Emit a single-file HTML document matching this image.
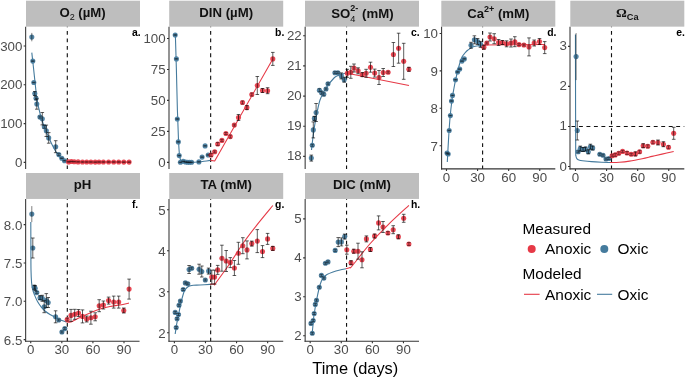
<!DOCTYPE html>
<html lang="en">
<head>
<meta charset="utf-8">
<title>Time series of measured and modeled porewater chemistry</title>
<style>
html,body{margin:0;padding:0;background:#fff;}
body{width:685px;height:378px;overflow:hidden;font-family:"Liberation Sans",Arial,Helvetica,sans-serif;}
svg{display:block;}
</style>
</head>
<body>
<svg width="685" height="378" viewBox="0 0 685 378" font-family="'Liberation Sans', Arial, Helvetica, sans-serif">
<rect width="685" height="378" fill="#fff"/>
<g>
<rect x="26" y="0.7" width="114" height="25.95" fill="#BEBEBE"/>
<text x="82.55" y="16.8" text-anchor="middle" font-size="13.2" font-weight="bold" fill="#111">O<tspan font-size="9" font-weight="normal" dy="3.3">2</tspan><tspan dy="-3.3"> (µM)</tspan></text>
<path d="M67.3 26.65 V168.9" stroke="#111" stroke-width="1.12" stroke-dasharray="3.9 3.58" stroke-dashoffset="3.2" fill="none"/>
<path d="M31.8 52.6 C32.05 54.83 32.77 61.1 33.3 66 C33.83 70.9 34.37 76.33 35 82 C35.63 87.67 36.27 94.78 37.1 100 C37.93 105.22 39.03 109.48 40 113.3 C40.97 117.12 41.95 120.03 42.9 122.9 C43.85 125.77 44.75 128.13 45.7 130.5 C46.65 132.87 47.55 134.77 48.6 137.1 C49.65 139.43 50.9 142.27 52 144.5 C53.1 146.73 54.03 148.55 55.2 150.5 C56.37 152.45 57.87 154.78 59 156.2 C60.13 157.62 61.03 158.2 62 159 C62.97 159.8 63.87 160.52 64.8 161 C65.73 161.48 67.13 161.75 67.6 161.9" stroke="#457B9D" stroke-width="1.1" fill="none" stroke-linejoin="round"/>
<path d="M67.6 161.9 L129.1 162.1" stroke="#E63946" stroke-width="1.1" fill="none" stroke-linejoin="round"/>
<g fill="#457B9D" fill-opacity="0.93"><circle cx="31.8" cy="37.1" r="2.55"/><circle cx="32.8" cy="61.1" r="2.55"/><circle cx="33.8" cy="82.5" r="2.55"/><circle cx="34.8" cy="93.6" r="2.55"/><circle cx="36" cy="98.2" r="2.55"/><circle cx="36.8" cy="104" r="2.55"/><circle cx="39.9" cy="117.1" r="2.55"/><circle cx="42.3" cy="118.7" r="2.55"/><circle cx="44.3" cy="126.8" r="2.55"/><circle cx="46.3" cy="130.8" r="2.55"/><circle cx="48.7" cy="137.9" r="2.55"/><circle cx="55.7" cy="146.7" r="2.55"/><circle cx="58.8" cy="154.6" r="2.55"/><circle cx="61.8" cy="158.2" r="2.55"/><circle cx="64.5" cy="160.7" r="2.55"/></g>
<g fill="#E63946" fill-opacity="0.93"><circle cx="68.6" cy="161.9" r="2.55"/><circle cx="71.4" cy="161.5" r="2.55"/><circle cx="74.3" cy="161.7" r="2.55"/><circle cx="78.1" cy="161.9" r="2.55"/><circle cx="82.5" cy="162" r="2.55"/><circle cx="86.7" cy="162" r="2.55"/><circle cx="90.9" cy="162" r="2.55"/><circle cx="95.2" cy="162.1" r="2.55"/><circle cx="99" cy="162" r="2.55"/><circle cx="103.4" cy="162" r="2.55"/><circle cx="108.6" cy="162" r="2.55"/><circle cx="113.7" cy="162" r="2.55"/><circle cx="118.7" cy="162" r="2.55"/><circle cx="123.8" cy="162.1" r="2.55"/><circle cx="129.1" cy="162.1" r="2.55"/></g>
<path d="M31.8 32.9V41.3" stroke="#000" stroke-opacity="0.5" stroke-width="1" fill="none"/>
<path d="M32.8 60.8V61.4M31 60.8H34.6M31 61.4H34.6M33.8 82.2V82.8M32 82.2H35.6M32 82.8H35.6M36 96.7V99.7M34.2 96.7H37.8M34.2 99.7H37.8M39.9 116.1V118.1M38.1 116.1H41.7M38.1 118.1H41.7M44.3 125.3V128.3M42.5 125.3H46.1M42.5 128.3H46.1M58.8 153.6V155.6M57 153.6H60.6M57 155.6H60.6M61.8 157.9V158.5M60 157.9H63.6M60 158.5H63.6M64.5 160.4V161M62.7 160.4H66.3M62.7 161H66.3M68.6 161.6V162.2M66.8 161.6H70.4M66.8 162.2H70.4M71.4 161.2V161.8M69.6 161.2H73.2M69.6 161.8H73.2M74.3 161.4V162M72.5 161.4H76.1M72.5 162H76.1M78.1 161.6V162.2M76.3 161.6H79.9M76.3 162.2H79.9M82.5 161.7V162.3M80.7 161.7H84.3M80.7 162.3H84.3M86.7 161.7V162.3M84.9 161.7H88.5M84.9 162.3H88.5M90.9 161.7V162.3M89.1 161.7H92.7M89.1 162.3H92.7M95.2 161.8V162.4M93.4 161.8H97M93.4 162.4H97M99 161.7V162.3M97.2 161.7H100.8M97.2 162.3H100.8M103.4 161.7V162.3M101.6 161.7H105.2M101.6 162.3H105.2M108.6 161.7V162.3M106.8 161.7H110.4M106.8 162.3H110.4M113.7 161.7V162.3M111.9 161.7H115.5M111.9 162.3H115.5M118.7 161.7V162.3M116.9 161.7H120.5M116.9 162.3H120.5M123.8 161.8V162.4M122 161.8H125.6M122 162.4H125.6M129.1 161.8V162.4M127.3 161.8H130.9M127.3 162.4H130.9" stroke="#000" stroke-opacity="0.62" stroke-width="0.65" fill="none"/>
<path d="M34.8 91.6V95.6M33 91.6H36.6M33 95.6H36.6M36.8 98.8V109.2M35 98.8H38.6M35 109.2H38.6M42.3 112.5V124.9M40.5 112.5H44.1M40.5 124.9H44.1M46.3 125.1V136.5M44.5 125.1H48.1M44.5 136.5H48.1M48.7 132.6V143.2M46.9 132.6H50.5M46.9 143.2H50.5M55.7 140.7V152.7M53.9 140.7H57.5M53.9 152.7H57.5" stroke="#000" stroke-opacity="0.88" stroke-width="0.72" fill="none"/>
<path d="M25.65 26.65 V168.9" stroke="#333" stroke-width="1.05" fill="none"/>
<path d="M23.65 162.4H25.65M23.65 123.6H25.65M23.65 84.8H25.65M23.65 46H25.65" stroke="#333" stroke-width="1.1" fill="none"/>
<g font-size="13.3" fill="#4D4D4D" text-anchor="end"><text x="22.35" y="166.9">0</text><text x="22.35" y="128.1">100</text><text x="22.35" y="89.3">200</text><text x="22.35" y="50.5">300</text></g>
<text x="131.9" y="35.95" font-size="10.4" font-weight="bold" fill="#000">a.</text>
</g>
<g>
<rect x="169.2" y="0.7" width="114" height="25.95" fill="#BEBEBE"/>
<text x="226.2" y="16.8" text-anchor="middle" font-size="13.2" font-weight="bold" fill="#111">DIN (µM)</text>
<path d="M210.65 26.65 V168.9" stroke="#111" stroke-width="1.12" stroke-dasharray="3.9 3.58" stroke-dashoffset="3.2" fill="none"/>
<path d="M175.3 33 C175.48 39.17 176.05 57.17 176.4 70 C176.75 82.83 177.05 98.33 177.4 110 C177.75 121.67 178.15 132.5 178.5 140 C178.85 147.5 179.08 151.5 179.5 155 C179.92 158.5 180.42 159.8 181 161 C181.58 162.2 181.5 161.98 183 162.2 C184.5 162.42 187.5 162.33 190 162.3 C192.5 162.27 195.67 162.17 198 162 C200.33 161.83 201.92 161.57 204 161.3 C206.08 161.03 209.42 160.55 210.5 160.4" stroke="#457B9D" stroke-width="1.1" fill="none" stroke-linejoin="round"/>
<path d="M210.5 160.4 L214.7 161 L272.8 59" stroke="#E63946" stroke-width="1.1" fill="none" stroke-linejoin="round"/>
<g fill="#457B9D" fill-opacity="0.93"><circle cx="175.2" cy="35" r="2.55"/><circle cx="176.4" cy="58.9" r="2.55"/><circle cx="177.3" cy="119" r="2.55"/><circle cx="178.3" cy="141.9" r="2.55"/><circle cx="179.2" cy="155.6" r="2.55"/><circle cx="180.4" cy="162.3" r="2.55"/><circle cx="183.2" cy="161.3" r="2.55"/><circle cx="185.5" cy="162" r="2.55"/><circle cx="187.6" cy="162.2" r="2.55"/><circle cx="189.5" cy="162.3" r="2.55"/><circle cx="191.6" cy="162.3" r="2.55"/><circle cx="198.9" cy="161.9" r="2.55"/><circle cx="202.1" cy="157.1" r="2.55"/><circle cx="205.1" cy="145.9" r="2.55"/><circle cx="208.2" cy="155" r="2.55"/></g>
<g fill="#E63946" fill-opacity="0.93"><circle cx="211" cy="155" r="2.55"/><circle cx="214.7" cy="151.8" r="2.55"/><circle cx="217.7" cy="144" r="2.55"/><circle cx="221.9" cy="140.4" r="2.55"/><circle cx="225.9" cy="133.5" r="2.55"/><circle cx="230.3" cy="136.6" r="2.55"/><circle cx="234.3" cy="125.1" r="2.55"/><circle cx="238.5" cy="117.5" r="2.55"/><circle cx="242.5" cy="102.5" r="2.55"/><circle cx="246.9" cy="107.6" r="2.55"/><circle cx="251.8" cy="94.5" r="2.55"/><circle cx="257.3" cy="85.5" r="2.55"/><circle cx="262.5" cy="90.5" r="2.55"/><circle cx="267.6" cy="90.7" r="2.55"/><circle cx="272.8" cy="58.9" r="2.55"/></g>
<path d="M175.2 34.7V35.3M173.4 34.7H177M173.4 35.3H177M176.4 58.6V59.2M174.6 58.6H178.2M174.6 59.2H178.2M177.3 118.7V119.3M175.5 118.7H179.1M175.5 119.3H179.1M178.3 141.6V142.2M176.5 141.6H180.1M176.5 142.2H180.1M179.2 155.3V155.9M177.4 155.3H181M177.4 155.9H181M180.4 162V162.6M178.6 162H182.2M178.6 162.6H182.2M183.2 161V161.6M181.4 161H185M181.4 161.6H185M185.5 161.7V162.3M183.7 161.7H187.3M183.7 162.3H187.3M187.6 161.9V162.5M185.8 161.9H189.4M185.8 162.5H189.4M189.5 162V162.6M187.7 162H191.3M187.7 162.6H191.3M191.6 162V162.6M189.8 162H193.4M189.8 162.6H193.4M198.9 161.6V162.2M197.1 161.6H200.7M197.1 162.2H200.7M202.1 156.8V157.4M200.3 156.8H203.9M200.3 157.4H203.9M205.1 145.6V146.2M203.3 145.6H206.9M203.3 146.2H206.9M208.2 154.7V155.3M206.4 154.7H210M206.4 155.3H210M211 153.5V156.5M209.2 153.5H212.8M209.2 156.5H212.8M214.7 150.8V152.8M212.9 150.8H216.5M212.9 152.8H216.5M217.7 142.5V145.5M215.9 142.5H219.5M215.9 145.5H219.5M221.9 139.4V141.4M220.1 139.4H223.7M220.1 141.4H223.7M225.9 132.5V134.5M224.1 132.5H227.7M224.1 134.5H227.7M230.3 135.1V138.1M228.5 135.1H232.1M228.5 138.1H232.1M234.3 124.1V126.1M232.5 124.1H236.1M232.5 126.1H236.1M242.5 101V104M240.7 101H244.3M240.7 104H244.3M251.8 93V96M250 93H253.6M250 96H253.6" stroke="#000" stroke-opacity="0.62" stroke-width="0.65" fill="none"/>
<path d="M238.5 114.5V120.5M236.7 114.5H240.3M236.7 120.5H240.3M246.9 105.6V109.6M245.1 105.6H248.7M245.1 109.6H248.7M257.3 76.5V94.5M255.5 76.5H259.1M255.5 94.5H259.1M262.5 88.5V92.5M260.7 88.5H264.3M260.7 92.5H264.3M267.6 87.7V93.7M265.8 87.7H269.4M265.8 93.7H269.4M272.8 52.4V65.4M271 52.4H274.6M271 65.4H274.6" stroke="#000" stroke-opacity="0.88" stroke-width="0.72" fill="none"/>
<path d="M169 26.65 V168.9" stroke="#333" stroke-width="1.05" fill="none"/>
<path d="M167 162.4H169M167 131.4H169M167 100.4H169M167 69.5H169M167 38.5H169" stroke="#333" stroke-width="1.1" fill="none"/>
<g font-size="13.3" fill="#4D4D4D" text-anchor="end"><text x="165.6" y="167.2">0</text><text x="165.6" y="136.2">25</text><text x="165.6" y="105.2">50</text><text x="165.6" y="74.3">75</text><text x="165.6" y="43.3">100</text></g>
<text x="275.1" y="35.95" font-size="10.4" font-weight="bold" fill="#000">b.</text>
</g>
<g>
<rect x="305" y="0.7" width="114" height="25.95" fill="#BEBEBE"/>
<text x="362.4" y="17.6" text-anchor="middle" font-size="13.2" font-weight="bold" fill="#111">SO<tspan font-size="9.2" font-weight="normal" dy="4.2">4</tspan><tspan font-size="9" font-weight="bold" dy="-11.2" dx="-5.1">2-</tspan><tspan dy="7"> (mM)</tspan></text>
<path d="M346.55 26.65 V168.9" stroke="#111" stroke-width="1.12" stroke-dasharray="3.9 3.58" stroke-dashoffset="3.2" fill="none"/>
<path d="M311.5 150 C311.83 147.17 312.75 138.33 313.5 133 C314.25 127.67 314.92 123.5 316 118 C317.08 112.5 318.33 105 320 100 C321.67 95 323.67 91.67 326 88 C328.33 84.33 332 80.08 334 78 C336 75.92 336 76.33 338 75.5 C340 74.67 344.67 73.42 346 73" stroke="#457B9D" stroke-width="1.1" fill="none" stroke-linejoin="round"/>
<path d="M346 73 L409 85.5" stroke="#E63946" stroke-width="1.1" fill="none" stroke-linejoin="round"/>
<g fill="#457B9D" fill-opacity="0.93"><circle cx="311.3" cy="158.1" r="2.55"/><circle cx="312.3" cy="145.3" r="2.55"/><circle cx="313.3" cy="129.9" r="2.55"/><circle cx="314.4" cy="118.4" r="2.55"/><circle cx="316.1" cy="112.5" r="2.55"/><circle cx="319.4" cy="90.2" r="2.55"/><circle cx="321.6" cy="92.7" r="2.55"/><circle cx="323.8" cy="94.3" r="2.55"/><circle cx="326" cy="89" r="2.55"/><circle cx="328" cy="83.8" r="2.55"/><circle cx="334.9" cy="72.7" r="2.55"/><circle cx="337.9" cy="72.7" r="2.55"/><circle cx="341.3" cy="75.9" r="2.55"/><circle cx="344.2" cy="79.7" r="2.55"/></g>
<g fill="#E63946" fill-opacity="0.93"><circle cx="347.3" cy="73.3" r="2.55"/><circle cx="350.8" cy="72.3" r="2.55"/><circle cx="354" cy="68" r="2.55"/><circle cx="358.1" cy="70.8" r="2.55"/><circle cx="362.3" cy="74.6" r="2.55"/><circle cx="366.1" cy="73.3" r="2.55"/><circle cx="370.5" cy="67.2" r="2.55"/><circle cx="374.7" cy="73.1" r="2.55"/><circle cx="379" cy="77.5" r="2.55"/><circle cx="383.2" cy="72.5" r="2.55"/><circle cx="388.1" cy="72.2" r="2.55"/><circle cx="393.4" cy="54.5" r="2.55"/><circle cx="398.6" cy="48.2" r="2.55"/><circle cx="403.7" cy="61.3" r="2.55"/><circle cx="408.9" cy="69.3" r="2.55"/></g>
<path d="M312.3 144.3V146.3M310.5 144.3H314.1M310.5 146.3H314.1M319.4 88.7V91.7M317.6 88.7H321.2M317.6 91.7H321.2M321.6 91.2V94.2M319.8 91.2H323.4M319.8 94.2H323.4M323.8 92.8V95.8M322 92.8H325.6M322 95.8H325.6M326 88V90M324.2 88H327.8M324.2 90H327.8M328 82.8V84.8M326.2 82.8H329.8M326.2 84.8H329.8M334.9 71.7V73.7M333.1 71.7H336.7M333.1 73.7H336.7M337.9 71.7V73.7M336.1 71.7H339.7M336.1 73.7H339.7M388.1 71.2V73.2M386.3 71.2H389.9M386.3 73.2H389.9" stroke="#000" stroke-opacity="0.62" stroke-width="0.65" fill="none"/>
<path d="M311.3 155.1V161.1M309.5 155.1H313.1M309.5 161.1H313.1M313.3 121.9V137.9M311.5 121.9H315.1M311.5 137.9H315.1M314.4 116.4V120.4M312.6 116.4H316.2M312.6 120.4H316.2M316.1 103.5V121.5M314.3 103.5H317.9M314.3 121.5H317.9M341.3 72.9V78.9M339.5 72.9H343.1M339.5 78.9H343.1M344.2 77.2V82.2M342.4 77.2H346M342.4 82.2H346M347.3 69.3V77.3M345.5 69.3H349.1M345.5 77.3H349.1M350.8 66.3V78.3M349 66.3H352.6M349 78.3H352.6M354 64V72M352.2 64H355.8M352.2 72H355.8M358.1 67.8V73.8M356.3 67.8H359.9M356.3 73.8H359.9M362.3 72.6V76.6M360.5 72.6H364.1M360.5 76.6H364.1M366.1 69.3V77.3M364.3 69.3H367.9M364.3 77.3H367.9M370.5 62.2V72.2M368.7 62.2H372.3M368.7 72.2H372.3M374.7 69.1V77.1M372.9 69.1H376.5M372.9 77.1H376.5M379 70.5V84.5M377.2 70.5H380.8M377.2 84.5H380.8M383.2 68.5V76.5M381.4 68.5H385M381.4 76.5H385M393.4 42.5V66.5M391.6 42.5H395.2M391.6 66.5H395.2M398.6 33.2V63.2M396.8 33.2H400.4M396.8 63.2H400.4M403.7 43.3V79.3M401.9 43.3H405.5M401.9 79.3H405.5M408.9 67.3V71.3M407.1 67.3H410.7M407.1 71.3H410.7" stroke="#000" stroke-opacity="0.88" stroke-width="0.72" fill="none"/>
<path d="M305.15 26.65 V168.9" stroke="#333" stroke-width="1.05" fill="none"/>
<path d="M303.15 156.4H305.15M303.15 126.2H305.15M303.15 96.1H305.15M303.15 65.9H305.15M303.15 35.8H305.15" stroke="#333" stroke-width="1.1" fill="none"/>
<g font-size="13.3" fill="#4D4D4D" text-anchor="end"><text x="301.7" y="160.4">18</text><text x="301.7" y="130.2">19</text><text x="301.7" y="100.1">20</text><text x="301.7" y="69.9">21</text><text x="301.7" y="39.8">22</text></g>
<text x="410.9" y="35.95" font-size="10.4" font-weight="bold" fill="#000">c.</text>
</g>
<g>
<rect x="441.3" y="0.7" width="114" height="25.95" fill="#BEBEBE"/>
<text x="498.3" y="18.2" text-anchor="middle" font-size="13.2" font-weight="bold" fill="#111">Ca<tspan font-size="9" font-weight="bold" dy="-6.6">2+</tspan><tspan dy="6.6"> (mM)</tspan></text>
<path d="M482.6 26.65 V168.9" stroke="#111" stroke-width="1.12" stroke-dasharray="3.9 3.58" stroke-dashoffset="3.2" fill="none"/>
<path d="M447.3 162 C447.5 158.33 448.05 147.33 448.5 140 C448.95 132.67 449.42 124.67 450 118 C450.58 111.33 451.33 105 452 100 C452.67 95 453.33 91.67 454 88 C454.67 84.33 455.17 81.67 456 78 C456.83 74.33 458 69.5 459 66 C460 62.5 461 59.17 462 57 C463 54.83 464 54.17 465 53 C466 51.83 466.5 51.08 468 50 C469.5 48.92 471.5 47.33 474 46.5 C476.5 45.67 481.5 45.25 483 45" stroke="#457B9D" stroke-width="1.1" fill="none" stroke-linejoin="round"/>
<path d="M483 45 L545 44.5" stroke="#E63946" stroke-width="1.1" fill="none" stroke-linejoin="round"/>
<g fill="#457B9D" fill-opacity="0.93"><circle cx="447" cy="153" r="2.55"/><circle cx="448.2" cy="154" r="2.55"/><circle cx="449.2" cy="130.5" r="2.55"/><circle cx="450.4" cy="115.6" r="2.55"/><circle cx="451.5" cy="101" r="2.55"/><circle cx="452.5" cy="95.4" r="2.55"/><circle cx="455.5" cy="79.8" r="2.55"/><circle cx="457.6" cy="72" r="2.55"/><circle cx="459.7" cy="69.1" r="2.55"/><circle cx="462" cy="61.1" r="2.55"/><circle cx="464.3" cy="58.9" r="2.55"/><circle cx="471" cy="45.3" r="2.55"/><circle cx="474.4" cy="39.8" r="2.55"/><circle cx="477.6" cy="41.5" r="2.55"/><circle cx="480.5" cy="44.4" r="2.55"/></g>
<g fill="#E63946" fill-opacity="0.93"><circle cx="483.9" cy="47.2" r="2.55"/><circle cx="486.8" cy="43" r="2.55"/><circle cx="490" cy="37" r="2.55"/><circle cx="494.2" cy="38.7" r="2.55"/><circle cx="498.6" cy="42.5" r="2.55"/><circle cx="502.4" cy="42.5" r="2.55"/><circle cx="506.6" cy="43.8" r="2.55"/><circle cx="511" cy="43" r="2.55"/><circle cx="514.8" cy="41.7" r="2.55"/><circle cx="519" cy="44.6" r="2.55"/><circle cx="523.9" cy="45" r="2.55"/><circle cx="529" cy="46.9" r="2.55"/><circle cx="534.2" cy="43" r="2.55"/><circle cx="539.5" cy="41.5" r="2.55"/><circle cx="544.7" cy="47.6" r="2.55"/></g>
<path d="M447 152.7V153.3M445.2 152.7H448.8M445.2 153.3H448.8M448.2 153.7V154.3M446.4 153.7H450M446.4 154.3H450M449.2 130.2V130.8M447.4 130.2H451M447.4 130.8H451M450.4 115.3V115.9M448.6 115.3H452.2M448.6 115.9H452.2M451.5 100.7V101.3M449.7 100.7H453.3M449.7 101.3H453.3M452.5 95.1V95.7M450.7 95.1H454.3M450.7 95.7H454.3M455.5 79.5V80.1M453.7 79.5H457.3M453.7 80.1H457.3M457.6 71.7V72.3M455.8 71.7H459.4M455.8 72.3H459.4M459.7 68.8V69.4M457.9 68.8H461.5M457.9 69.4H461.5M462 60.8V61.4M460.2 60.8H463.8M460.2 61.4H463.8M464.3 58.6V59.2M462.5 58.6H466.1M462.5 59.2H466.1M486.8 42V44M485 42H488.6M485 44H488.6M519 43.6V45.6M517.2 43.6H520.8M517.2 45.6H520.8M523.9 44V46M522.1 44H525.7M522.1 46H525.7" stroke="#000" stroke-opacity="0.62" stroke-width="0.65" fill="none"/>
<path d="M471 42.3V48.3M469.2 42.3H472.8M469.2 48.3H472.8M474.4 35.8V43.8M472.6 35.8H476.2M472.6 43.8H476.2M477.6 38.5V44.5M475.8 38.5H479.4M475.8 44.5H479.4M480.5 41.4V47.4M478.7 41.4H482.3M478.7 47.4H482.3M483.9 45.2V49.2M482.1 45.2H485.7M482.1 49.2H485.7M490 33V41M488.2 33H491.8M488.2 41H491.8M494.2 33.7V43.7M492.4 33.7H496M492.4 43.7H496M498.6 39.5V45.5M496.8 39.5H500.4M496.8 45.5H500.4M502.4 40.5V44.5M500.6 40.5H504.2M500.6 44.5H504.2M506.6 40.8V46.8M504.8 40.8H508.4M504.8 46.8H508.4M511 39V47M509.2 39H512.8M509.2 47H512.8M514.8 36.7V46.7M513 36.7H516.6M513 46.7H516.6M529 37.9V55.9M527.2 37.9H530.8M527.2 55.9H530.8M534.2 40V46M532.4 40H536M532.4 46H536M539.5 38.5V44.5M537.7 38.5H541.3M537.7 44.5H541.3M544.7 41.6V53.6M542.9 41.6H546.5M542.9 53.6H546.5" stroke="#000" stroke-opacity="0.88" stroke-width="0.72" fill="none"/>
<path d="M441.6 26.65 V169.4" stroke="#333" stroke-width="1.05" fill="none"/>
<path d="M439.6 145.7H441.6M439.6 108.3H441.6M439.6 70.9H441.6M439.6 33.5H441.6" stroke="#333" stroke-width="1.1" fill="none"/>
<g font-size="13.3" fill="#4D4D4D" text-anchor="end"><text x="438" y="150.5">7</text><text x="438" y="113.1">8</text><text x="438" y="75.7">9</text><text x="438" y="38.3">10</text></g>
<path d="M441.05 168.9 H555.3" stroke="#333" stroke-width="1.1" fill="none"/>
<path d="M446.48 168.9V170.9M477.57 168.9V170.9M508.66 168.9V170.9M539.75 168.9V170.9" stroke="#333" stroke-width="1.1" fill="none"/>
<g font-size="13.3" fill="#4D4D4D" text-anchor="middle"><text x="446.48" y="182.05">0</text><text x="477.57" y="182.05">30</text><text x="508.66" y="182.05">60</text><text x="539.75" y="182.05">90</text></g>
<text x="547.2" y="35.95" font-size="10.4" font-weight="bold" fill="#000">d.</text>
</g>
<g>
<rect x="570.3" y="0.7" width="114" height="25.95" fill="#BEBEBE"/>
<text x="627.3" y="16.8" text-anchor="middle" font-size="13.2" font-weight="bold" fill="#111"><tspan font-family="Liberation Serif, serif" font-size="13.5">Ω</tspan><tspan font-size="9.2" font-weight="bold" dy="3.3">Ca</tspan></text>
<path d="M611.5 26.65 V168.9" stroke="#111" stroke-width="1.12" stroke-dasharray="3.9 3.58" stroke-dashoffset="3.2" fill="none"/>
<path d="M570.3 126.45 H684.3" stroke="#111" stroke-width="1.12" stroke-dasharray="3.9 3.58" stroke-dashoffset="6.3" fill="none"/>
<path d="M575.45 34.5 C575.47 45.42 575.51 80.75 575.55 100 C575.59 119.25 575.64 140.75 575.7 150 C575.76 159.25 575.78 154.2 575.9 155.5 C576.02 156.8 576.15 157.17 576.4 157.8 C576.65 158.43 576.88 158.9 577.4 159.3 C577.92 159.7 578.65 159.97 579.5 160.2 C580.35 160.43 580.52 160.47 582.5 160.7 C584.48 160.93 588.22 161.35 591.4 161.6 C594.58 161.85 598.5 162.05 601.6 162.2 C604.7 162.35 608.6 162.45 610 162.5" stroke="#457B9D" stroke-width="1.1" fill="none" stroke-linejoin="round"/>
<path d="M610 162.5 C611.57 162.45 616.15 162.43 619.4 162.2 C622.65 161.97 625.7 161.68 629.5 161.1 C633.3 160.52 638.45 159.48 642.2 158.7 C645.95 157.92 648.7 157.17 652 156.4 C655.3 155.63 658.38 154.92 662 154.1 C665.62 153.28 671.75 151.93 673.7 151.5" stroke="#E63946" stroke-width="1.1" fill="none" stroke-linejoin="round"/>
<g fill="#457B9D" fill-opacity="0.93"><circle cx="576.1" cy="56.6" r="2.55"/><circle cx="577.3" cy="130.5" r="2.55"/><circle cx="578.2" cy="151.8" r="2.55"/><circle cx="580.3" cy="148.6" r="2.55"/><circle cx="583" cy="149.5" r="2.55"/><circle cx="585.5" cy="149" r="2.55"/><circle cx="588.3" cy="151.8" r="2.55"/><circle cx="590.4" cy="146.7" r="2.55"/><circle cx="592.7" cy="148" r="2.55"/><circle cx="599.8" cy="154.3" r="2.55"/><circle cx="603" cy="155.2" r="2.55"/><circle cx="606" cy="159" r="2.55"/><circle cx="608.9" cy="158.5" r="2.55"/></g>
<g fill="#E63946" fill-opacity="0.93"><circle cx="612.1" cy="155.8" r="2.55"/><circle cx="615.2" cy="154.9" r="2.55"/><circle cx="618.8" cy="153.3" r="2.55"/><circle cx="622.6" cy="151.4" r="2.55"/><circle cx="627" cy="153" r="2.55"/><circle cx="631.2" cy="154.3" r="2.55"/><circle cx="635.4" cy="153.9" r="2.55"/><circle cx="639.6" cy="151.8" r="2.55"/><circle cx="643.2" cy="145.7" r="2.55"/><circle cx="647.8" cy="146.3" r="2.55"/><circle cx="652.9" cy="142.3" r="2.55"/><circle cx="658" cy="142.5" r="2.55"/><circle cx="663.4" cy="144.2" r="2.55"/><circle cx="668.5" cy="147.2" r="2.55"/><circle cx="673.7" cy="133.3" r="2.55"/></g>
<path d="M576.1 33.1V80.1" stroke="#000" stroke-opacity="0.5" stroke-width="1" fill="none"/>
<path d="M578.2 150.8V152.8M576.4 150.8H580M576.4 152.8H580M599.8 153.3V155.3M598 153.3H601.6M598 155.3H601.6M603 154.2V156.2M601.2 154.2H604.8M601.2 156.2H604.8M606 158V160M604.2 158H607.8M604.2 160H607.8M608.9 157.5V159.5M607.1 157.5H610.7M607.1 159.5H610.7M612.1 154.8V156.8M610.3 154.8H613.9M610.3 156.8H613.9M615.2 153.4V156.4M613.4 153.4H617M613.4 156.4H617M618.8 151.8V154.8M617 151.8H620.6M617 154.8H620.6M622.6 150.4V152.4M620.8 150.4H624.4M620.8 152.4H624.4M627 151.5V154.5M625.2 151.5H628.8M625.2 154.5H628.8M631.2 153.3V155.3M629.4 153.3H633M629.4 155.3H633M639.6 150.3V153.3M637.8 150.3H641.4M637.8 153.3H641.4M647.8 144.8V147.8M646 144.8H649.6M646 147.8H649.6M652.9 140.8V143.8M651.1 140.8H654.7M651.1 143.8H654.7M668.5 145.7V148.7M666.7 145.7H670.3M666.7 148.7H670.3" stroke="#000" stroke-opacity="0.62" stroke-width="0.65" fill="none"/>
<path d="M577.3 121V140M575.5 121H579.1M575.5 140H579.1M580.3 146.1V151.1M578.5 146.1H582.1M578.5 151.1H582.1M583 147.5V151.5M581.2 147.5H584.8M581.2 151.5H584.8M585.5 147V151M583.7 147H587.3M583.7 151H587.3M588.3 149.8V153.8M586.5 149.8H590.1M586.5 153.8H590.1M590.4 144.2V149.2M588.6 144.2H592.2M588.6 149.2H592.2M592.7 146V150M590.9 146H594.5M590.9 150H594.5M635.4 151.9V155.9M633.6 151.9H637.2M633.6 155.9H637.2M643.2 143.7V147.7M641.4 143.7H645M641.4 147.7H645M658 140V145M656.2 140H659.8M656.2 145H659.8M663.4 141.7V146.7M661.6 141.7H665.2M661.6 146.7H665.2M673.7 127.3V139.3M671.9 127.3H675.5M671.9 139.3H675.5" stroke="#000" stroke-opacity="0.88" stroke-width="0.72" fill="none"/>
<path d="M570 26.65 V169.4" stroke="#333" stroke-width="1.05" fill="none"/>
<path d="M568 166.5H570M568 126.45H570M568 86.4H570M568 46.35H570" stroke="#333" stroke-width="1.1" fill="none"/>
<g font-size="13.3" fill="#4D4D4D" text-anchor="end"><text x="567" y="170.5">0</text><text x="567" y="130.45">1</text><text x="567" y="90.4">2</text><text x="567" y="50.35">3</text></g>
<path d="M569.45 168.9 H684.3" stroke="#333" stroke-width="1.1" fill="none"/>
<path d="M575.48 168.9V170.9M606.57 168.9V170.9M637.66 168.9V170.9M668.75 168.9V170.9" stroke="#333" stroke-width="1.1" fill="none"/>
<g font-size="13.3" fill="#4D4D4D" text-anchor="middle"><text x="575.48" y="182.05">0</text><text x="606.57" y="182.05">30</text><text x="637.66" y="182.05">60</text><text x="668.75" y="182.05">90</text></g>
<text x="676.2" y="35.95" font-size="10.4" font-weight="bold" fill="#000">e.</text>
</g>
<g>
<rect x="26" y="173" width="114" height="25.95" fill="#BEBEBE"/>
<text x="82.55" y="189.1" text-anchor="middle" font-size="13.2" font-weight="bold" fill="#111">pH</text>
<path d="M67.3 198.95 V341.3" stroke="#111" stroke-width="1.12" stroke-dasharray="3.9 3.58" stroke-dashoffset="3.2" fill="none"/>
<path d="M30.8 222 C30.82 226.67 30.87 242 30.9 250 C30.93 258 30.88 264.55 31 270 C31.12 275.45 31.3 279.37 31.6 282.7 C31.9 286.03 32.28 287.88 32.8 290 C33.32 292.12 33.92 293.48 34.7 295.4 C35.48 297.32 36.43 299.6 37.5 301.5 C38.57 303.4 39.85 305.22 41.1 306.8 C42.35 308.38 43.52 309.72 45 311 C46.48 312.28 48.12 313.35 50 314.5 C51.88 315.65 54.47 316.93 56.3 317.9 C58.13 318.87 59.3 319.62 61 320.3 C62.7 320.98 65.58 321.72 66.5 322" stroke="#457B9D" stroke-width="1.1" fill="none" stroke-linejoin="round"/>
<path d="M66.5 322 C67.25 322 69.58 322.33 71 322 C72.42 321.67 73.5 320.75 75 320 C76.5 319.25 77.5 318.67 80 317.5 C82.5 316.33 86.67 314.42 90 313 C93.33 311.58 96.67 310.08 100 309 C103.33 307.92 106.67 307.17 110 306.5 C113.33 305.83 116.83 305.58 120 305 C123.17 304.42 127.5 303.33 129 303" stroke="#E63946" stroke-width="1.1" fill="none" stroke-linejoin="round"/>
<g fill="#457B9D" fill-opacity="0.93"><circle cx="31.8" cy="214.1" r="2.55"/><circle cx="32.8" cy="248" r="2.55"/><circle cx="34.3" cy="287.2" r="2.55"/><circle cx="35.2" cy="288.2" r="2.55"/><circle cx="36.8" cy="292.6" r="2.55"/><circle cx="40" cy="297.7" r="2.55"/><circle cx="42.3" cy="298.3" r="2.55"/><circle cx="44.2" cy="306.7" r="2.55"/><circle cx="46.3" cy="300.6" r="2.55"/><circle cx="48.2" cy="302.5" r="2.55"/><circle cx="55.6" cy="316.8" r="2.55"/><circle cx="58.7" cy="320" r="2.55"/><circle cx="61.9" cy="332" r="2.55"/><circle cx="64.8" cy="328.6" r="2.55"/></g>
<g fill="#E63946" fill-opacity="0.93"><circle cx="67.2" cy="319.6" r="2.55"/><circle cx="71" cy="315.4" r="2.55"/><circle cx="74.7" cy="314.3" r="2.55"/><circle cx="78.5" cy="313" r="2.55"/><circle cx="82.5" cy="316.4" r="2.55"/><circle cx="86.7" cy="319" r="2.55"/><circle cx="90.9" cy="317.7" r="2.55"/><circle cx="95.2" cy="316.8" r="2.55"/><circle cx="99.2" cy="305.7" r="2.55"/><circle cx="103.4" cy="305" r="2.55"/><circle cx="108.6" cy="300.6" r="2.55"/><circle cx="113.7" cy="302.1" r="2.55"/><circle cx="118.7" cy="302.1" r="2.55"/><circle cx="123.8" cy="310.5" r="2.55"/><circle cx="129.1" cy="289.1" r="2.55"/></g>
<path d="M31.8 206.1V222.1" stroke="#000" stroke-opacity="0.5" stroke-width="1" fill="none"/>
<path d="M36.8 291.6V293.6M35 291.6H38.6M35 293.6H38.6M58.7 319V321M56.9 319H60.5M56.9 321H60.5M61.9 331V333M60.1 331H63.7M60.1 333H63.7M64.8 327.6V329.6M63 327.6H66.6M63 329.6H66.6M67.2 318.1V321.1M65.4 318.1H69M65.4 321.1H69" stroke="#000" stroke-opacity="0.62" stroke-width="0.65" fill="none"/>
<path d="M32.8 238V258M31 238H34.6M31 258H34.6M34.3 285.2V289.2M32.5 285.2H36.1M32.5 289.2H36.1M35.2 285.7V290.7M33.4 285.7H37M33.4 290.7H37M40 295.7V299.7M38.2 295.7H41.8M38.2 299.7H41.8M42.3 295.3V301.3M40.5 295.3H44.1M40.5 301.3H44.1M44.2 300.7V312.7M42.4 300.7H46M42.4 312.7H46M46.3 293.6V307.6M44.5 293.6H48.1M44.5 307.6H48.1M48.2 297.5V307.5M46.4 297.5H50M46.4 307.5H50M55.6 310.8V322.8M53.8 310.8H57.4M53.8 322.8H57.4M71 309.4V321.4M69.2 309.4H72.8M69.2 321.4H72.8M74.7 309.3V319.3M72.9 309.3H76.5M72.9 319.3H76.5M78.5 309.5V316.5M76.7 309.5H80.3M76.7 316.5H80.3M82.5 309.9V322.9M80.7 309.9H84.3M80.7 322.9H84.3M86.7 316V322M84.9 316H88.5M84.9 322H88.5M90.9 311.2V324.2M89.1 311.2H92.7M89.1 324.2H92.7M95.2 312.8V320.8M93.4 312.8H97M93.4 320.8H97M99.2 299.7V311.7M97.4 299.7H101M97.4 311.7H101M103.4 301V309M101.6 301H105.2M101.6 309H105.2M108.6 297.1V304.1M106.8 297.1H110.4M106.8 304.1H110.4M113.7 296.1V308.1M111.9 296.1H115.5M111.9 308.1H115.5M118.7 296.1V308.1M116.9 296.1H120.5M116.9 308.1H120.5M123.8 308V313M122 308H125.6M122 313H125.6M129.1 279.1V299.1M127.3 279.1H130.9M127.3 299.1H130.9" stroke="#000" stroke-opacity="0.88" stroke-width="0.72" fill="none"/>
<path d="M25.65 198.95 V341.8" stroke="#333" stroke-width="1.05" fill="none"/>
<path d="M23.65 339.6H25.65M23.65 301.3H25.65M23.65 263H25.65M23.65 224.6H25.65" stroke="#333" stroke-width="1.1" fill="none"/>
<g font-size="13.3" fill="#4D4D4D" text-anchor="end"><text x="22.35" y="344.7">6.5</text><text x="22.35" y="306.4">7.0</text><text x="22.35" y="268.1">7.5</text><text x="22.35" y="229.7">8.0</text></g>
<path d="M25.1 341.3 H139.55" stroke="#333" stroke-width="1.1" fill="none"/>
<path d="M30.73 341.3V343.3M61.82 341.3V343.3M92.91 341.3V343.3M124 341.3V343.3" stroke="#333" stroke-width="1.1" fill="none"/>
<g font-size="13.3" fill="#4D4D4D" text-anchor="middle"><text x="30.73" y="354.45">0</text><text x="61.82" y="354.45">30</text><text x="92.91" y="354.45">60</text><text x="124" y="354.45">90</text></g>
<text x="131.9" y="208.25" font-size="10.4" font-weight="bold" fill="#000">f.</text>
</g>
<g>
<rect x="169.2" y="173" width="114" height="25.95" fill="#BEBEBE"/>
<text x="226.2" y="189.1" text-anchor="middle" font-size="13.2" font-weight="bold" fill="#111">TA (mM)</text>
<path d="M210.65 198.95 V341.3" stroke="#111" stroke-width="1.12" stroke-dasharray="3.9 3.58" stroke-dashoffset="3.2" fill="none"/>
<path d="M175.2 334 C175.42 332.5 176.03 327.75 176.5 325 C176.97 322.25 177.28 321.07 178 317.5 C178.72 313.93 179.87 307.68 180.8 303.6 C181.73 299.52 182.82 295.38 183.6 293 C184.38 290.62 184.82 290.3 185.5 289.3 C186.18 288.3 186.87 287.58 187.7 287 C188.53 286.42 189.57 286.08 190.5 285.8 C191.43 285.52 191.72 285.43 193.3 285.3 C194.88 285.17 197.22 285.15 200 285 C202.78 284.85 208.33 284.5 210 284.4" stroke="#457B9D" stroke-width="1.1" fill="none" stroke-linejoin="round"/>
<path d="M210 284.4 C210.82 284.3 214 283.95 214.9 283.8 C215.8 283.65 212.97 286.8 215.4 283.5 C217.83 280.2 224.77 270.87 229.5 264 C234.23 257.13 239.22 248.83 243.8 242.3 C248.38 235.77 252.17 230.93 257 224.8 C261.83 218.67 270.17 208.72 272.8 205.5" stroke="#E63946" stroke-width="1.1" fill="none" stroke-linejoin="round"/>
<g fill="#457B9D" fill-opacity="0.93"><circle cx="176.2" cy="327.6" r="2.55"/><circle cx="175.2" cy="312.4" r="2.55"/><circle cx="177.1" cy="318.7" r="2.55"/><circle cx="178.5" cy="314.5" r="2.55"/><circle cx="179" cy="305.3" r="2.55"/><circle cx="180.4" cy="301.1" r="2.55"/><circle cx="183.2" cy="289.5" r="2.55"/><circle cx="185.3" cy="282.9" r="2.55"/><circle cx="187.8" cy="283.8" r="2.55"/><circle cx="189.1" cy="269.5" r="2.55"/><circle cx="191.7" cy="268.2" r="2.55"/><circle cx="199.1" cy="269.2" r="2.55"/><circle cx="201.8" cy="271.5" r="2.55"/><circle cx="205.3" cy="280" r="2.55"/><circle cx="208.6" cy="271.1" r="2.55"/></g>
<g fill="#E63946" fill-opacity="0.93"><circle cx="211.8" cy="277.1" r="2.55"/><circle cx="214.6" cy="277.1" r="2.55"/><circle cx="217.7" cy="269.9" r="2.55"/><circle cx="221.9" cy="258.2" r="2.55"/><circle cx="226.2" cy="261" r="2.55"/><circle cx="230.3" cy="262.6" r="2.55"/><circle cx="234.4" cy="268" r="2.55"/><circle cx="238.4" cy="253.3" r="2.55"/><circle cx="242.8" cy="245.7" r="2.55"/><circle cx="247" cy="249.9" r="2.55"/><circle cx="251.8" cy="243.6" r="2.55"/><circle cx="257.3" cy="241.1" r="2.55"/><circle cx="262.5" cy="251.6" r="2.55"/><circle cx="267.6" cy="238.9" r="2.55"/><circle cx="272.8" cy="248.4" r="2.55"/></g>
<path d="M176.2 326.6V328.6M174.4 326.6H178M174.4 328.6H178M175.2 311.4V313.4M173.4 311.4H177M173.4 313.4H177M177.1 317.7V319.7M175.3 317.7H178.9M175.3 319.7H178.9M178.5 313.5V315.5M176.7 313.5H180.3M176.7 315.5H180.3M179 304.3V306.3M177.2 304.3H180.8M177.2 306.3H180.8M180.4 300.1V302.1M178.6 300.1H182.2M178.6 302.1H182.2M183.2 288.5V290.5M181.4 288.5H185M181.4 290.5H185M185.3 281.9V283.9M183.5 281.9H187.1M183.5 283.9H187.1M187.8 282.8V284.8M186 282.8H189.6M186 284.8H189.6M191.7 267.2V269.2M189.9 267.2H193.5M189.9 269.2H193.5M205.3 279V281M203.5 279H207.1M203.5 281H207.1" stroke="#000" stroke-opacity="0.62" stroke-width="0.65" fill="none"/>
<path d="M189.1 265.5V273.5M187.3 265.5H190.9M187.3 273.5H190.9M199.1 264.2V274.2M197.3 264.2H200.9M197.3 274.2H200.9M201.8 266V277M200 266H203.6M200 277H203.6M208.6 268.1V274.1M206.8 268.1H210.4M206.8 274.1H210.4M211.8 270.1V284.1M210 270.1H213.6M210 284.1H213.6M214.6 270.1V284.1M212.8 270.1H216.4M212.8 284.1H216.4M217.7 265.4V274.4M215.9 265.4H219.5M215.9 274.4H219.5M221.9 245.2V271.2M220.1 245.2H223.7M220.1 271.2H223.7M226.2 250.5V271.5M224.4 250.5H228M224.4 271.5H228M230.3 257.6V267.6M228.5 257.6H232.1M228.5 267.6H232.1M234.4 260.5V275.5M232.6 260.5H236.2M232.6 275.5H236.2M238.4 242.3V264.3M236.6 242.3H240.2M236.6 264.3H240.2M242.8 237.7V253.7M241 237.7H244.6M241 253.7H244.6M247 240.9V258.9M245.2 240.9H248.8M245.2 258.9H248.8M251.8 241.1V246.1M250 241.1H253.6M250 246.1H253.6M257.3 229.6V252.6M255.5 229.6H259.1M255.5 252.6H259.1M262.5 245.6V257.6M260.7 245.6H264.3M260.7 257.6H264.3M267.6 233.4V244.4M265.8 233.4H269.4M265.8 244.4H269.4M272.8 246.4V250.4M271 246.4H274.6M271 250.4H274.6" stroke="#000" stroke-opacity="0.88" stroke-width="0.72" fill="none"/>
<path d="M169 198.95 V341.8" stroke="#333" stroke-width="1.05" fill="none"/>
<path d="M167 332.7H169M167 291.7H169M167 250.8H169M167 209.8H169" stroke="#333" stroke-width="1.1" fill="none"/>
<g font-size="13.3" fill="#4D4D4D" text-anchor="end"><text x="165.6" y="337.5">2</text><text x="165.6" y="296.5">3</text><text x="165.6" y="255.6">4</text><text x="165.6" y="214.6">5</text></g>
<path d="M168.45 341.3 H283.2" stroke="#333" stroke-width="1.1" fill="none"/>
<path d="M174.38 341.3V343.3M205.47 341.3V343.3M236.56 341.3V343.3M267.65 341.3V343.3" stroke="#333" stroke-width="1.1" fill="none"/>
<g font-size="13.3" fill="#4D4D4D" text-anchor="middle"><text x="174.38" y="354.45">0</text><text x="205.47" y="354.45">30</text><text x="236.56" y="354.45">60</text><text x="267.65" y="354.45">90</text></g>
<text x="275.1" y="208.25" font-size="10.4" font-weight="bold" fill="#000">g.</text>
</g>
<g>
<rect x="305" y="173" width="114" height="25.95" fill="#BEBEBE"/>
<text x="362" y="189.1" text-anchor="middle" font-size="13.2" font-weight="bold" fill="#111">DIC (mM)</text>
<path d="M346.55 198.95 V341.3" stroke="#111" stroke-width="1.12" stroke-dasharray="3.9 3.58" stroke-dashoffset="3.2" fill="none"/>
<path d="M312 335 C312.17 333.33 312.67 328.33 313 325 C313.33 321.67 313.33 319.5 314 315 C314.67 310.5 316 303 317 298 C318 293 319 288.33 320 285 C321 281.67 321.83 279.75 323 278 C324.17 276.25 325.33 275.5 327 274.5 C328.67 273.5 330.83 272.75 333 272 C335.17 271.25 337.83 270.55 340 270 C342.17 269.45 345 268.92 346 268.7" stroke="#457B9D" stroke-width="1.1" fill="none" stroke-linejoin="round"/>
<path d="M346 268.7 C346.67 268.52 348.92 268.13 350 267.6 C351.08 267.07 349.2 269.43 352.5 265.5 C355.8 261.57 363.88 250.78 369.8 244 C375.72 237.22 381.48 231.25 388 224.8 C394.52 218.35 405.42 208.55 408.9 205.3" stroke="#E63946" stroke-width="1.1" fill="none" stroke-linejoin="round"/>
<g fill="#457B9D" fill-opacity="0.93"><circle cx="312.3" cy="333.3" r="2.55"/><circle cx="311" cy="323.4" r="2.55"/><circle cx="313.2" cy="320.6" r="2.55"/><circle cx="314.2" cy="313.5" r="2.55"/><circle cx="315.3" cy="304.4" r="2.55"/><circle cx="316.5" cy="300.2" r="2.55"/><circle cx="319.3" cy="287.2" r="2.55"/><circle cx="321.4" cy="275.4" r="2.55"/><circle cx="323.9" cy="278.1" r="2.55"/><circle cx="325.4" cy="263.3" r="2.55"/><circle cx="328" cy="261.9" r="2.55"/><circle cx="335.2" cy="250.4" r="2.55"/><circle cx="338.2" cy="242.1" r="2.55"/><circle cx="341.4" cy="241.9" r="2.55"/><circle cx="344.7" cy="236.6" r="2.55"/></g>
<g fill="#E63946" fill-opacity="0.93"><circle cx="346.8" cy="249.7" r="2.55"/><circle cx="351" cy="262.7" r="2.55"/><circle cx="353.8" cy="251.2" r="2.55"/><circle cx="358" cy="251.2" r="2.55"/><circle cx="362" cy="259.8" r="2.55"/><circle cx="366.4" cy="238.9" r="2.55"/><circle cx="370.4" cy="249.5" r="2.55"/><circle cx="374.6" cy="236" r="2.55"/><circle cx="378.6" cy="222.9" r="2.55"/><circle cx="383" cy="227" r="2.55"/><circle cx="387.9" cy="233" r="2.55"/><circle cx="393.2" cy="229.7" r="2.55"/><circle cx="398.4" cy="236.8" r="2.55"/><circle cx="403.7" cy="218.3" r="2.55"/><circle cx="408.9" cy="244" r="2.55"/></g>
<path d="M312.3 332.3V334.3M310.5 332.3H314.1M310.5 334.3H314.1M311 322.4V324.4M309.2 322.4H312.8M309.2 324.4H312.8M313.2 319.6V321.6M311.4 319.6H315M311.4 321.6H315M314.2 312.5V314.5M312.4 312.5H316M312.4 314.5H316M315.3 303.4V305.4M313.5 303.4H317.1M313.5 305.4H317.1M316.5 299.2V301.2M314.7 299.2H318.3M314.7 301.2H318.3M319.3 286.2V288.2M317.5 286.2H321.1M317.5 288.2H321.1M321.4 274.4V276.4M319.6 274.4H323.2M319.6 276.4H323.2M323.9 277.1V279.1M322.1 277.1H325.7M322.1 279.1H325.7M325.4 262.3V264.3M323.6 262.3H327.2M323.6 264.3H327.2M328 260.9V262.9M326.2 260.9H329.8M326.2 262.9H329.8M335.2 249.4V251.4M333.4 249.4H337M333.4 251.4H337M387.9 231.5V234.5M386.1 231.5H389.7M386.1 234.5H389.7M408.9 242.5V245.5M407.1 242.5H410.7M407.1 245.5H410.7" stroke="#000" stroke-opacity="0.62" stroke-width="0.65" fill="none"/>
<path d="M338.2 237.6V246.6M336.4 237.6H340M336.4 246.6H340M341.4 237.9V245.9M339.6 237.9H343.2M339.6 245.9H343.2M344.7 234.1V239.1M342.9 234.1H346.5M342.9 239.1H346.5M346.8 245.2V254.2M345 245.2H348.6M345 254.2H348.6M351 260.7V264.7M349.2 260.7H352.8M349.2 264.7H352.8M353.8 249.2V253.2M352 249.2H355.6M352 253.2H355.6M358 243.2V259.2M356.2 243.2H359.8M356.2 259.2H359.8M362 251.8V267.8M360.2 251.8H363.8M360.2 267.8H363.8M366.4 235.9V241.9M364.6 235.9H368.2M364.6 241.9H368.2M370.4 247.5V251.5M368.6 247.5H372.2M368.6 251.5H372.2M374.6 234V238M372.8 234H376.4M372.8 238H376.4M378.6 215.9V229.9M376.8 215.9H380.4M376.8 229.9H380.4M383 221.5V232.5M381.2 221.5H384.8M381.2 232.5H384.8M393.2 225.7V233.7M391.4 225.7H395M391.4 233.7H395M398.4 234.8V238.8M396.6 234.8H400.2M396.6 238.8H400.2M403.7 214.3V222.3M401.9 214.3H405.5M401.9 222.3H405.5" stroke="#000" stroke-opacity="0.88" stroke-width="0.72" fill="none"/>
<path d="M305.15 198.95 V341.8" stroke="#333" stroke-width="1.05" fill="none"/>
<path d="M303.15 335.8H305.15M303.15 296.8H305.15M303.15 257.9H305.15M303.15 218.9H305.15" stroke="#333" stroke-width="1.1" fill="none"/>
<g font-size="13.3" fill="#4D4D4D" text-anchor="end"><text x="301.7" y="339.9">2</text><text x="301.7" y="300.9">3</text><text x="301.7" y="262">4</text><text x="301.7" y="223">5</text></g>
<path d="M304.6 341.3 H419" stroke="#333" stroke-width="1.1" fill="none"/>
<path d="M310.18 341.3V343.3M341.27 341.3V343.3M372.36 341.3V343.3M403.45 341.3V343.3" stroke="#333" stroke-width="1.1" fill="none"/>
<g font-size="13.3" fill="#4D4D4D" text-anchor="middle"><text x="310.18" y="354.45">0</text><text x="341.27" y="354.45">30</text><text x="372.36" y="354.45">60</text><text x="403.45" y="354.45">90</text></g>
<text x="410.9" y="208.25" font-size="10.4" font-weight="bold" fill="#000">h.</text>
</g>
<text x="355.3" y="373.5" text-anchor="middle" font-size="16.4" fill="#000">Time (days)</text>
<g font-size="15.4" fill="#000">
<text x="522.5" y="233.6">Measured</text>
<circle cx="531.7" cy="249" r="4" fill="#E63946"/>
<text x="545.1" y="253.9">Anoxic</text>
<circle cx="604.3" cy="249" r="4" fill="#457B9D"/>
<text x="617.6" y="253.9">Oxic</text>
<text x="522.5" y="279.4">Modeled</text>
<path d="M524 294.3H539.6" stroke="#E63946" stroke-width="1.1"/>
<text x="545.1" y="299.6">Anoxic</text>
<path d="M597 294.3H612.2" stroke="#457B9D" stroke-width="1.1"/>
<text x="617.6" y="299.6">Oxic</text>
</g>
</svg>
</body>
</html>
